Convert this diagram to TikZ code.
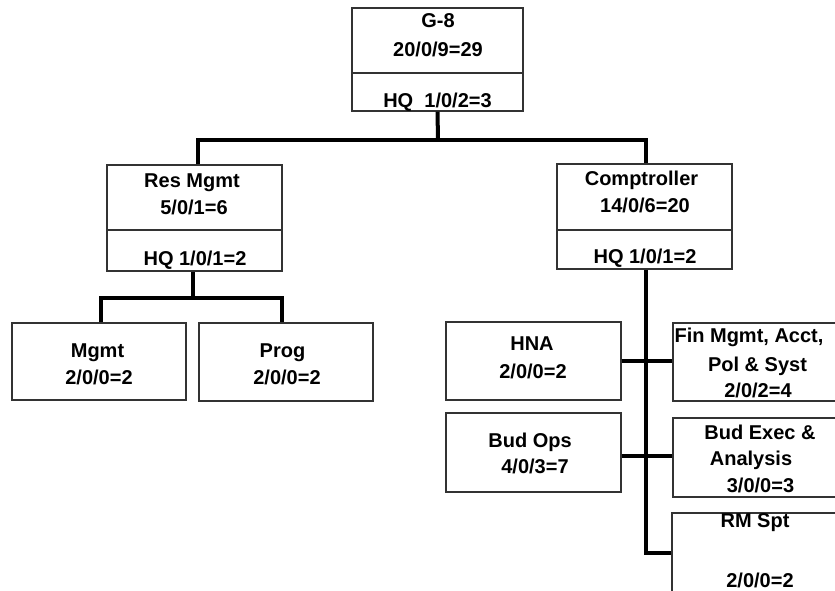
\documentclass[tikz,border=0pt]{standalone}
\usepackage{fontspec}
\setmainfont{Liberation Sans}
\begin{document}
\begin{tikzpicture}[x=1pt,y=-1pt,
  box/.style={draw=black!80,line width=1.4pt,fill=white,inner sep=0pt},
  divline/.style={draw=black!80,line width=1.4pt},
  conn/.style={draw=black,line width=4pt,line join=miter},
  txt/.style={anchor=base,inner sep=0pt,font=\fontsize{20}{24}\selectfont\bfseries}]
\useasboundingbox (0,0) rectangle (835,591);
\clip (0,0) rectangle (835,591);
\fill[white] (0,0) rectangle (835,591);
% coordinates for connector routing
\coordinate (j1) at (438,140);
\coordinate (j1l) at (198,140);
\coordinate (j1r) at (646,140);
\coordinate (j2) at (193,298);
\coordinate (j2l) at (101,298);
\coordinate (j2r) at (282,298);
\coordinate (j3) at (646,553);
\coordinate (j3h) at (646,361);
\coordinate (j3b) at (646,456);
% boxes
\node[box,minimum width=171pt,minimum height=103pt] (g8) at (437.5,59.5) {};
\node[box,minimum width=175pt,minimum height=106pt] (res) at (194.5,218) {};
\node[box,minimum width=175pt,minimum height=105pt] (comp) at (644.5,216.5) {};
\node[box,minimum width=174pt,minimum height=77pt] (mgmt) at (99,361.5) {};
\node[box,minimum width=174pt,minimum height=78pt] (prog) at (286,362) {};
\node[box,minimum width=175pt,minimum height=78pt] (hna) at (533.5,361) {};
\node[box,minimum width=175pt,minimum height=78pt] (fin) at (760.5,362) {};
\node[box,minimum width=175pt,minimum height=79pt] (budops) at (533.5,452.5) {};
\node[box,minimum width=175pt,minimum height=79pt] (budexec) at (760.5,457.5) {};
\node[box,minimum width=175pt,minimum height=107pt] (rmspt) at (759.5,566.5) {};
% dividers
\draw[divline] (g8.west |- 0,73) -- (g8.east |- 0,73);
\draw[divline] (res.west |- 0,230) -- (res.east |- 0,230);
\draw[divline] (comp.west |- 0,230) -- (comp.east |- 0,230);
% connectors
\draw[conn] (g8.south) -- (j1);
\draw[conn] (j1l |- res.north) -- (j1l) -- (j1r) -- (j1r |- comp.north);
\draw[conn] (res.south -| j2) -- (j2);
\draw[conn] (j2l |- mgmt.north) -- (j2l) -- (j2r) -- (j2r |- prog.north);
\draw[conn] (comp.south -| j3) -- (j3) -- (j3 -| rmspt.west);
\draw[conn] (hna.east |- j3h) -- (fin.west |- j3h);
\draw[conn] (budops.east |- j3b) -- (budexec.west |- j3b);
% texts
\node[txt] (t1) at (438,28) {G-8};
\node[txt] (t2) at (438,57) {20/0/9=29};
\node[txt] (t3) at (437.5,108) {HQ\ \ 1/0/2=3};
\node[txt] (t4) at (192,187) {Res Mgmt};
\node[txt] (t5) at (194,214) {5/0/1=6};
\node[txt] (t6) at (195,265) {HQ 1/0/1=2};
\node[txt] (t7) at (641.5,185) {Comptroller};
\node[txt] (t8) at (645,212) {14/0/6=20};
\node[txt] (t9) at (645,263) {HQ 1/0/1=2};
\node[txt] (t10) at (97.5,357) {Mgmt};
\node[txt] (t11) at (99,384) {2/0/0=2};
\node[txt] (t12) at (282.5,357) {Prog};
\node[txt] (t13) at (287,384) {2/0/0=2};
\node[txt] (t14) at (532,350) {HNA};
\node[txt] (t15) at (533,378) {2/0/0=2};
\node[txt] (t16) at (749,342) {Fin Mgmt, Acct,};
\node[txt] (t17) at (757.5,371) {Pol \& Syst};
\node[txt] (t18) at (758,397) {2/0/2=4};
\node[txt] (t19) at (530,447) {Bud Ops};
\node[txt] (t20) at (535,473) {4/0/3=7};
\node[txt] (t21) at (760,439) {Bud Exec \&};
\node[txt] (t22) at (751,465) {Analysis};
\node[txt] (t23) at (760.5,492) {3/0/0=3};
\node[txt] (t24) at (755,527) {RM Spt};
\node[txt] (t25) at (760,587) {2/0/0=2};
\end{tikzpicture}
\end{document}
